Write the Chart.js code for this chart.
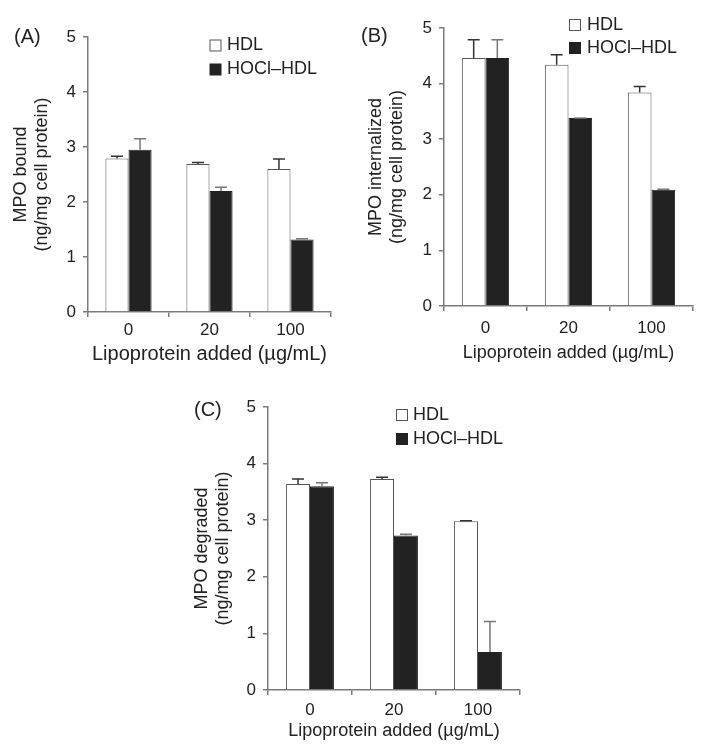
<!DOCTYPE html>
<html>
<head>
<meta charset="utf-8">
<script src="https://cdn.jsdelivr.net/npm/chart.js@4.4.1/dist/chart.umd.min.js"></script>
<style>
  body { margin: 0; background: #fff; }
  #wrap { position: relative; width: 709px; height: 756px; font-family: "Liberation Sans", Arial, sans-serif; color: #222; }
  canvas { position: absolute; }
  .tag { position: absolute; font-size: 20px; line-height: 20px; }
</style>
</head>
<body>
<div id="wrap">
  <canvas id="chartA" width="354" height="372" style="left:0;top:0"></canvas>
  <canvas id="chartB" width="355" height="372" style="left:354px;top:0"></canvas>
  <canvas id="chartC" width="360" height="386" style="left:180px;top:370px"></canvas>
  <div class="tag" style="left:14px;top:26px">(A)</div>
  <div class="tag" style="left:361px;top:25px">(B)</div>
  <div class="tag" style="left:194px;top:399px">(C)</div>
</div>
<script>
// data
const categories = ['0', '20', '100'];
const seriesNames = ['HDL', 'HOCl–HDL'];
const xTitle = 'Lipoprotein added (µg/mL)';

const boundHdl = [2.79, 2.69, 2.60];
const boundHdlErr = [0.04, 0.03, 0.18];
const boundHocl = [2.95, 2.20, 1.32];
const boundHoclErr = [0.20, 0.07, 0.01];

const internHdl = [4.46, 4.34, 3.84];
const internHdlErr = [0.33, 0.18, 0.11];
const internHocl = [4.46, 3.38, 2.09];
const internHoclErr = [0.33, 0.00, 0.01];

const degradHdl = [3.64, 3.73, 2.98];
const degradHdlErr = [0.09, 0.03, 0.01];
const degradHocl = [3.60, 2.73, 0.67];
const degradHoclErr = [0.06, 0.02, 0.54];

const FONT = '"Liberation Sans", Arial, sans-serif';
const AXIS = '#7a7a7a';

// upward-only error bars with a cap
const errorBars = {
  id: 'errorBars',
  afterDatasetsDraw(chart) {
    const ctx = chart.ctx;
    const y = chart.scales.y;
    chart.data.datasets.forEach((ds, i) => {
      chart.getDatasetMeta(i).data.forEach((bar, j) => {
        const top = y.getPixelForValue(ds.data[j] + ds.errors[j]);
        ctx.save();
        ctx.strokeStyle = ds.errorColor;
        ctx.lineWidth = 1.5;
        ctx.beginPath();
        ctx.moveTo(bar.x, bar.y);
        ctx.lineTo(bar.x, top);
        ctx.moveTo(bar.x - 6, top);
        ctx.lineTo(bar.x + 6, top);
        ctx.stroke();
        ctx.restore();
      });
    });
  }
};

// small square legend in the upper right
const boxLegend = {
  id: 'boxLegend',
  afterDraw(chart, args, opts) {
    const ctx = chart.ctx;
    ctx.save();
    ctx.font = '18px ' + FONT;
    ctx.textBaseline = 'middle';
    chart.data.datasets.forEach((ds, i) => {
      const cy = opts.y + i * opts.gap;
      ctx.fillStyle = ds.backgroundColor;
      ctx.fillRect(opts.x - 5.5, cy - 5.5, 11, 11);
      ctx.strokeStyle = ds.borderColor;
      ctx.lineWidth = 1;
      ctx.strokeRect(opts.x - 5.5, cy - 5.5, 11, 11);
      ctx.fillStyle = '#222';
      ctx.fillText(ds.label, opts.x + opts.textGap, cy);
    });
    ctx.restore();
  }
};

function makePanel(id, hdl, hdlErr, hocl, hoclErr, yTitle, g) {
  const canvas = document.getElementById(id);
  return new Chart(canvas, {
    type: 'bar',
    data: {
      labels: categories,
      datasets: [
        {
          label: seriesNames[0], data: hdl, errors: hdlErr, errorColor: '#333',
          backgroundColor: '#ffffff', borderColor: '#555', borderWidth: 1,
          categoryPercentage: 0.57, barPercentage: 1.0
        },
        {
          label: seriesNames[1], data: hocl, errors: hoclErr, errorColor: '#777',
          backgroundColor: '#222222', borderColor: '#222222', borderWidth: 1,
          categoryPercentage: 0.57, barPercentage: 1.0
        }
      ]
    },
    options: {
      responsive: false,
      animation: false,
      devicePixelRatio: 1,
      layout: { padding: { left: 0, top: g.top, right: g.right, bottom: 0 } },
      plugins: {
        legend: { display: false },
        tooltip: { enabled: false },
        boxLegend: g.legend
      },
      scales: {
        x: {
          grid: { display: true, drawOnChartArea: false, drawTicks: true, tickLength: 5, color: AXIS, lineWidth: 1.5, offset: true },
          border: { display: true, color: AXIS, width: 1.5 },
          ticks: { color: '#222', font: { family: FONT, size: 17 }, padding: g.xTickPad },
          title: { display: true, text: xTitle, color: '#222', font: { family: FONT, size: g.xTitleSize }, padding: { top: 0, bottom: g.xTitlePad } },
          afterFit: s => { s.height = g.xHeight; }
        },
        y: {
          min: 0, max: 5,
          grid: { display: true, drawOnChartArea: false, drawTicks: true, tickLength: 5, color: AXIS, lineWidth: 1.5 },
          border: { display: true, color: AXIS, width: 1.5 },
          ticks: { stepSize: 1, color: '#222', font: { family: FONT, size: 17 }, padding: 7 },
          title: { display: true, text: yTitle, color: '#222', font: { family: FONT, size: 18 }, padding: { top: g.yTitlePad, bottom: 0 } },
          afterFit: s => { s.width = g.yWidth; }
        }
      }
    },
    plugins: [errorBars, boxLegend]
  });
}

makePanel('chartA', boundHdl, boundHdlErr, boundHocl, boundHoclErr,
  ['MPO bound', '(ng/mg cell protein)'],
  { top: 37, right: 23, yWidth: 88, xHeight: 60, xTickPad: 3, xTitleSize: 20, xTitlePad: 6, yTitlePad: 10,
    legend: { x: 215.5, y: 45.5, gap: 24, textGap: 11.5 } });

makePanel('chartB', internHdl, internHdlErr, internHocl, internHoclErr,
  ['MPO internalized', '(ng/mg cell protein)'],
  { top: 28, right: 16, yWidth: 90, xHeight: 66, xTickPad: 7, xTitleSize: 18, xTitlePad: 8, yTitlePad: 11,
    legend: { x: 221, y: 25, gap: 23, textGap: 12 } });

makePanel('chartC', degradHdl, degradHdlErr, degradHocl, degradHoclErr,
  ['MPO degraded', '(ng/mg cell protein)'],
  { top: 37, right: 20, yWidth: 88, xHeight: 66, xTickPad: 5, xTitleSize: 18, xTitlePad: 14, yTitlePad: 11,
    legend: { x: 222, y: 45, gap: 24, textGap: 11 } });
</script>
</body>
</html>
